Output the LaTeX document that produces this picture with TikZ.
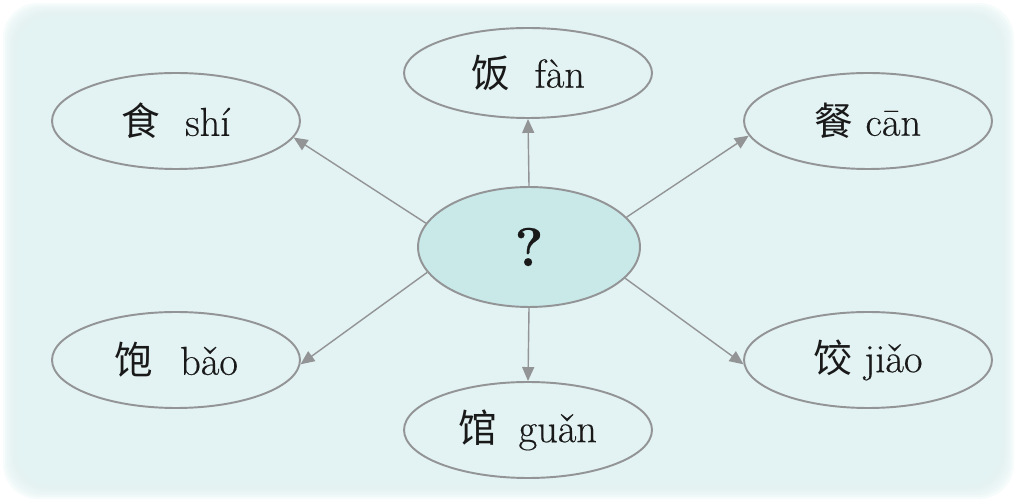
\documentclass[tikz,border=0pt]{standalone}
\usepackage{fontspec}
\setmainfont{Latin Modern Roman}[FakeBold=0.35]
\newfontfamily\cjk{Noto Sans CJK SC}
\usetikzlibrary{shapes.geometric,arrows.meta}
\definecolor{bgc}{HTML}{E3F2F2}
\definecolor{cfill}{HTML}{C9E8E8}
\definecolor{edge}{HTML}{939496}
\newcommand{\zh}[1]{{\cjk\fontsize{22}{24}\selectfont #1}}
\begin{document}
\begin{tikzpicture}[x=0.02cm,y=-0.02cm,
  bub/.style={ellipse, draw=edge, line width=1.1pt, minimum width=4.96cm,
    minimum height=1.92cm, inner sep=0pt, text=black!90,
    font=\fontsize{23}{26}\selectfont},
  arr/.style={draw=edge, line width=0.8pt,
    -{Triangle[length=0.28cm,width=0.24cm]}}]
\useasboundingbox (0,0) rectangle (1017,502);
\fill[white] (0,0) rectangle (1017,502);
\foreach \i in {0,...,7}
  \fill[bgc, opacity=0.3, rounded corners=0.7cm]
    ({3+2*\i},{3+2*\i}) rectangle ({1014-2*\i},{499-2*\i});
\node[bub, fill=cfill, minimum width=4.44cm, minimum height=2.4cm,
  font=\bfseries\fontsize{31}{34}\selectfont] (c) at (529,247) {?};
\node[bub] (shi) at (176,121) {\zh{食}\hspace{0.5cm}shí};
\node[bub, minimum height=1.8cm] (fan) at (528,73) {\zh{饭}\hspace{0.5cm}fàn};
\node[bub] (can) at (868,121) {\zh{餐}\hspace{0.24cm}cān};
\node[bub] (bao) at (176,360) {\zh{饱}\hspace{0.55cm}bǎo};
\node[bub] (guan) at (528,430) {\zh{馆}\hspace{0.42cm}guǎn};
\node[bub] (jiao) at (868,360) {\zh{饺}\hspace{0.24cm}jiǎo};
\draw[arr] (c.167) -- (shi.352);
\draw[arr] (c.90) -- (fan.270);
\draw[arr] (c.17) -- (can.187);
\draw[arr] (c.194) -- (bao.358);
\draw[arr] (c.270) -- (guan.90);
\draw[arr] (c.342) -- (jiao.182);
\end{tikzpicture}
\end{document}
